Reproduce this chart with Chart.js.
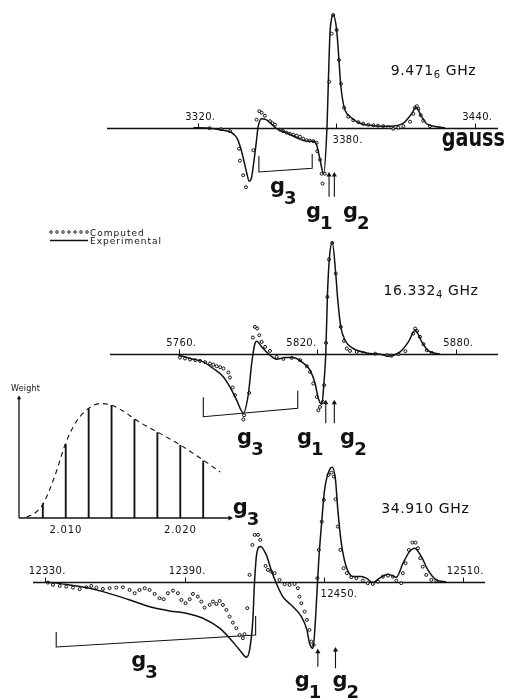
<!DOCTYPE html>
<html>
<head>
<meta charset="utf-8">
<title>EPR spectra, three frequencies</title>
<script src="https://cdn.jsdelivr.net/npm/chart.js@4.4.1/dist/chart.umd.min.js"></script>
<style>
  body { margin: 0; background: #fff; }
  #page { position: relative; width: 506px; height: 700px; }
  #page canvas { position: absolute; left: 0; top: 0; }
</style>
</head>
<body>
<div id="page">
  <canvas id="xband" width="506" height="700"></canvas>
  <canvas id="kuband" width="506" height="700"></canvas>
  <canvas id="qband" width="506" height="700"></canvas>
  <canvas id="weights" width="506" height="700"></canvas>
</div>
<script>
const INK = "#111";

// ---- 9.4716 GHz: field (gauss), derivative intensity (arb.)
const xbandTicks = [3320, 3380, 3440];
const xbandTickSide = ["above", "below", "above"];
const xbandExpt = [
  [3318, 0], [3325, -0.5], [3329.5, -2], [3334.6, -5], [3336.8, -10], [3338.2, -18],
  [3339.6, -30], [3341.1, -45], [3342.2, -53.5], [3343.2, -50], [3344, -38], [3345.1, -18],
  [3346.1, 1], [3347.6, 9], [3349.5, 8], [3351.2, 5], [3354.1, -1], [3358.4, -5],
  [3362.8, -10], [3367.1, -13.5], [3370, -13.5], [3371.4, -17], [3372.9, -32], [3374.4, -46],
  [3375.9, 0], [3376.5, 46], [3377.2, 94], [3377.9, 109], [3378.6, 112.7], [3380.1, 97.7],
  [3381.1, 67.7], [3381.8, 44.4], [3382.7, 27.7], [3383.7, 17.7], [3385.9, 11], [3390.2, 4.5],
  [3396, 2], [3403.2, 1.5], [3409, 4.5], [3412.6, 14], [3414.5, 20.5], [3416.9, 11],
  [3419.1, 4], [3423.4, 1], [3427, 0]
];
const xbandCalc = [
  [3325, -0.5], [3330, -1.5], [3333.9, -3.5], [3337.8, -21], [3338.2, -33], [3339.6, -47.5],
  [3340.8, -59.5], [3344, -22.5], [3345.4, 8], [3346.6, 16.5], [3347.6, 15], [3349, 12],
  [3351.2, 6.5], [3352.3, 4.5], [3353.4, 3], [3355.5, -2], [3356.9, -3.5], [3358.4, -5],
  [3359.8, -6], [3361.3, -7], [3362.8, -8], [3364.2, -9], [3365.6, -11], [3367.1, -12.5],
  [3368.5, -13], [3370, -13.5], [3371.4, -15], [3371.7, -23.5], [3372.9, -32], [3373.6, -46],
  [3374, -56], [3375, -46], [3376.9, 46], [3377.9, 94], [3378.6, 112.7], [3380.1, 97.7],
  [3381.1, 67.7], [3382, 44], [3383.3, 20], [3385.1, 11], [3387.3, 7.5], [3389.5, 5.5],
  [3391.6, 4], [3393.8, 3], [3396, 2.5], [3398, 2], [3400.3, 1.5], [3402.5, 0.5],
  [3404.6, -1], [3406.8, 0], [3409, 1.5], [3411.9, 6], [3413.3, 14], [3414, 20],
  [3414.8, 21.5], [3415.5, 19], [3416.5, 12.5], [3417.6, 7], [3420.5, 1.5]
];
const xbandBracket = [[3346.4, -28.3], [3346.4, -44.3], [3369.5, -40.6], [3369.5, -26.3]];
const xbandArrows = [[3376.8, -69, -47.3], [3379.1, -69, -47.3]];

// ---- 16.3324 GHz
const kubandTicks = [5760, 5820, 5880];
const kubandTickSide = ["above", "aboveEnd", "above"];
const kubandExpt = [
  [5760, -1], [5765, -4.3], [5770.7, -7.7], [5775, -14.3], [5779.4, -22.7], [5782.2, -32.7],
  [5785.1, -46], [5788, -58.7], [5790.2, -39.3], [5791.6, -9.3], [5793, 10.7], [5793.8, 13],
  [5795.9, 7.3], [5799.5, -1], [5802.4, -5], [5806, -3.3], [5809.6, -3.3], [5813.2, -7.7],
  [5816.8, -16], [5819, -29.3], [5820.4, -44.3], [5821.9, -50], [5822.9, -26], [5823.6, 0],
  [5824.3, 57.3], [5825.1, 94], [5826.4, 112.3], [5827.9, 80.7], [5828.8, 54], [5830.1, 27.3],
  [5831.9, 14], [5835.5, 5.7], [5841.3, 1.3], [5847, 0], [5850.6, -2], [5855.7, 2.3],
  [5859.3, 12.3], [5862.2, 24], [5865.1, 12.3], [5867.9, 3.3], [5873, 0]
];
const kubandCalc = [
  [5760.6, -3.3], [5762.8, -4.3], [5765, -5.3], [5767.2, -6], [5769.3, -6.7], [5771.5, -8],
  [5773.6, -9.3], [5775, -10.5], [5776.5, -12], [5778, -13], [5779.4, -14.3], [5781.5, -18.3],
  [5782.2, -23.3], [5783.4, -33.3], [5784.4, -41], [5788, -65.3], [5788.3, -61], [5790.5, -38.7],
  [5792.1, 16.7], [5793, 27.3], [5794, 25.7], [5794.9, 19], [5795.9, 12.3], [5797.4, 7.3],
  [5799.5, 3.3], [5802.4, -2.7], [5805.3, -4.7], [5808.9, -3.7], [5812.5, -6], [5815.4, -12],
  [5816.8, -17.7], [5818.2, -29.3], [5819.7, -42.7], [5820.4, -56], [5821.1, -52.7], [5822.3, -47.7],
  [5822.9, -31], [5823.7, 11.3], [5824.3, 57.3], [5825, 94.7], [5826.4, 111.3], [5827.9, 80.7],
  [5830.1, 27.3], [5831.5, 13.3], [5832.7, 5.7], [5834.1, 3.3], [5837, 2.3], [5840, 1],
  [5845, 0.5], [5850, -1], [5852, -1.5], [5855, 0], [5858, 3], [5861.4, 20.7],
  [5862.2, 25.7], [5863, 23.3], [5864.3, 17.3], [5865.8, 10], [5867.2, 4], [5869.4, 1.3]
];
const kubandBracket = [[5770.7, -43.1], [5770.7, -62.5], [5811.5, -54.1], [5811.5, -36.5]];
const kubandArrows = [[5823.6, -69.1, -48.5], [5827.3, -69.1, -48.5]];

// ---- 34.910 GHz
const qbandTicks = [12330, 12390, 12450, 12510];
const qbandTickSide = ["above", "above", "below", "above"];
const qbandExpt = [
  [12330.4, 0], [12340.5, -3], [12347.7, -5.7], [12354.8, -9.7], [12362, -14.7], [12369.2, -20.3],
  [12376.3, -25.7], [12383.5, -29], [12390.7, -31.3], [12397.9, -36.3], [12405.1, -46.3], [12409.4, -56.3],
  [12413.7, -68], [12416.6, -75.3], [12418, -68], [12419.4, -38], [12420.1, -1.3], [12421.1, 28.7],
  [12422.6, 35.5], [12425.2, 27], [12427.3, 12], [12429.5, -1.3], [12432.3, -14.7], [12436.6, -24.7],
  [12440.3, -34.7], [12442.7, -48], [12443.8, -61.3], [12445.3, -66.3], [12446, -51.3], [12447, -11.3],
  [12447.8, 22], [12448.9, 55.3], [12450.3, 92], [12452.4, 112], [12453.6, 114.7], [12455, 102],
  [12456, 72], [12457.5, 39], [12459.6, 15.3], [12462.5, 5.3], [12466.1, 5.3], [12468.3, 3.7],
  [12471.1, -0.7], [12474, 3.7], [12477.6, 7.7], [12481.2, 4.7], [12484.1, 18.7], [12486.9, 30.3],
  [12489.1, 33.7], [12492, 25.3], [12494.8, 12], [12498.4, 2], [12502.7, 0]
];
const qbandCalc = [
  [12331.1, -0.7], [12333.3, -3], [12336.2, -4], [12339, -4.7], [12341.9, -5.7], [12344.8, -7.3],
  [12347.7, -5.3], [12349.8, -4], [12352, -5.7], [12354.8, -7], [12357.7, -6.3], [12360.6, -5.7],
  [12363.4, -5.3], [12366.3, -8], [12368.5, -11.3], [12370.6, -8], [12372.8, -6.3], [12374.9, -8],
  [12377.1, -12], [12379.2, -16.3], [12381, -17.3], [12382.8, -11.3], [12385, -8.7], [12387.1, -11.3],
  [12388.6, -18], [12390.4, -21.3], [12392.2, -17.3], [12393.6, -12], [12395.7, -14.7], [12397.2, -19.7],
  [12398.6, -25.7], [12400.8, -23], [12402.2, -19.7], [12403.7, -22], [12405.1, -19], [12406.5, -23],
  [12408, -28], [12409.4, -34.7], [12410.8, -40.7], [12412.3, -46.3], [12413.7, -53], [12415.1, -56.3],
  [12415.8, -52.3], [12417, -26.3], [12418, 7], [12419.2, 37], [12420.2, 47], [12421.6, 47],
  [12422.6, 42], [12424.9, 16], [12425.9, 12], [12427.3, 10.3], [12428.8, 8.7], [12430.9, 2],
  [12433.1, -2.3], [12435.2, -3], [12437.4, -2], [12438.8, -6.3], [12439.5, -14.7], [12440.3, -21.3],
  [12441.7, -29.7], [12442.7, -38], [12443.8, -48], [12444.6, -59.7], [12445.6, -63], [12447.2, 3.7],
  [12447.8, 32], [12449.1, 60.3], [12450, 82], [12452, 107], [12453.3, 109.3], [12454.3, 105.3],
  [12455, 82.7], [12456, 55.3], [12457.1, 32], [12458.5, 13.7], [12459.9, 8.7], [12461.8, 4.7],
  [12464, 3.7], [12466.8, 1.3], [12468.9, -1.3], [12471.1, -2], [12473.3, 0.3], [12475.4, 5.3],
  [12477.6, 6.3], [12479.7, 5.3], [12481.2, 1.3], [12483.3, -1.3], [12484, 8.7], [12485.2, 18.7],
  [12486.6, 32], [12488.1, 39.3], [12489.5, 39.3], [12490.5, 33.7], [12491.5, 23.7], [12492.6, 15.3],
  [12494.1, 7], [12496.3, 2], [12498.4, 1.3]
];
const qbandBracket = [[12334.7, -50.1], [12334.7, -65.1], [12420.6, -53.1], [12420.6, -34.1]];
const qbandArrows = [[12447.4, -84.8, -69.8], [12455, -86.4, -68.1]];

// ---- g-value weighting used for the computed spectra
const weightG = [2.008, 2.010, 2.012, 2.014, 2.016, 2.018, 2.020, 2.022];
const weightH = [14.4, 73.7, 109.4, 112.7, 98.4, 85.4, 72.7, 57];
const weightEnvelope = [
  [2.00659, 1], [2.00732, 5], [2.00804, 14.4], [2.00907, 42.7], [2.010, 75], [2.0109, 96],
  [2.01197, 109.4], [2.013, 114.4], [2.01396, 113], [2.015, 107], [2.01605, 98.8], [2.01701, 92],
  [2.01804, 85.8], [2.01902, 79.4], [2.020, 73], [2.02103, 65.4], [2.02208, 57.3], [2.02348, 46]
];
const weightTicks = [2.010, 2.020];

// axis line, tick marks, tick labels and the g / frequency labels of one spectrum
const spectrumDecor = {
  id: "spectrumDecor",
  beforeDatasetsDraw(chart, args, opts) {
    const { ctx, chartArea, scales: { x, y } } = chart;
    const y0 = Math.round(y.getPixelForValue(0)) + 0.5;
    ctx.save();
    ctx.strokeStyle = INK;
    ctx.lineWidth = 1.6;
    ctx.beginPath();
    ctx.moveTo(chartArea.left, y0);
    ctx.lineTo(chartArea.right, y0);
    ctx.stroke();

    ctx.lineWidth = 1;
    ctx.fillStyle = INK;
    ctx.font = '10px "DejaVu Sans"';
    ctx.letterSpacing = "0.3px";
    opts.ticks.forEach((v, i) => {
      const px = Math.round(x.getPixelForValue(v)) + 0.5;
      ctx.beginPath();
      ctx.moveTo(px, y0);
      ctx.lineTo(px, y0 - 5);
      ctx.stroke();
      const num = String(v);
      const w = ctx.measureText(num).width;
      const side = opts.sides[i];
      if (side === "below") {
        ctx.fillText(num + ".", px - 4, y0 + 14);
      } else if (side === "aboveEnd") {
        ctx.fillText(num + ".", px - ctx.measureText(num + ".").width - 1, y0 - 9);
      } else {
        ctx.fillText(num + ".", px - w / 2, y0 - 9);
      }
    });
    ctx.restore();
  },
  afterDraw(chart, args, opts) {
    const { ctx, scales: { x, y } } = chart;
    ctx.save();
    ctx.fillStyle = INK;
    opts.labels.forEach(lab => {
      const px = x.getPixelForValue(lab.at[0]);
      const py = y.getPixelForValue(lab.at[1]);
      if (lab.kind === "g") {
        ctx.letterSpacing = "0px";
        ctx.font = 'bold 21px "DejaVu Sans"';
        ctx.fillText("g", px, py);
        const w = ctx.measureText("g").width;
        ctx.font = 'bold 18px "DejaVu Sans"';
        ctx.fillText(lab.sub, px + w - 1, py + 11);
      } else if (lab.kind === "freq") {
        ctx.letterSpacing = "0.6px";
        ctx.font = '14px "DejaVu Sans"';
        ctx.fillText(lab.text, px, py);
        let cx = px + ctx.measureText(lab.text).width;
        if (lab.sub) {
          ctx.font = '10px "DejaVu Sans"';
          ctx.fillText(lab.sub, cx, py + 3);
          cx += ctx.measureText(lab.sub).width;
          ctx.font = '14px "DejaVu Sans"';
        }
        ctx.fillText(lab.tail, cx, py);
      } else if (lab.kind === "unit") {
        ctx.letterSpacing = "0px";
        ctx.font = 'bold 24px "DejaVu Sans"';
        ctx.save();
        ctx.translate(px, py);
        ctx.scale(0.8, 1);
        ctx.fillText(lab.text, 0, 0);
        ctx.restore();
      }
    });
    ctx.restore();
  }
};

// inset axes labels plus the figure key
const weightDecor = {
  id: "weightDecor",
  afterDraw(chart, args, opts) {
    const { ctx, scales: { x, y } } = chart;
    const y0 = y.getPixelForValue(0);
    ctx.save();
    ctx.fillStyle = INK;
    ctx.strokeStyle = INK;
    ctx.font = '10px "DejaVu Sans"';
    ctx.letterSpacing = "0.8px";
    weightTicks.forEach(v => {
      const t = v.toFixed(3);
      const w = ctx.measureText(t).width;
      ctx.fillText(t, x.getPixelForValue(v) - w / 2, y0 + 15);
    });
    ctx.font = '8px "DejaVu Sans"';
    ctx.letterSpacing = "0.2px";
    ctx.fillText("Weight", x.left - 8, y.top - 7);

    // key: dotted row for computed, solid rule for experimental
    const k = opts.key;
    ctx.lineWidth = 0.9;
    for (let i = 0; i < 7; i++) {
      ctx.beginPath();
      ctx.arc(k.x + 1 + i * 6, k.y, 1.3, 0, Math.PI * 2);
      ctx.stroke();
    }
    ctx.lineWidth = 1.3;
    ctx.beginPath();
    ctx.moveTo(k.x, k.y + 8.5);
    ctx.lineTo(k.x + 38, k.y + 8.5);
    ctx.stroke();
    ctx.font = '9px "DejaVu Sans"';
    ctx.letterSpacing = "1px";
    ctx.fillText("Computed", k.x + 40, k.y + 3.5);
    ctx.fillText("Experimental", k.x + 40, k.y + 12);
    ctx.restore();
  }
};

function arrowSets(arrows) {
  return arrows.map(a => ({
    type: "line",
    data: [[a[0], a[1]], [a[0], a[2]]],
    borderColor: INK,
    borderWidth: 1.1,
    tension: 0,
    pointRadius: [0, 3],
    pointStyle: "triangle",
    pointBackgroundColor: INK,
    pointBorderColor: INK,
    pointBorderWidth: 0
  }));
}

function spectrumChart(id, expt, calc, bracket, arrows, area, xRange, yRange, decor) {
  return new Chart(document.getElementById(id), {
    type: "line",
    data: {
      datasets: [
        {
          label: "Experimental",
          data: expt,
          borderColor: INK,
          borderWidth: 1.5,
          pointRadius: 0,
          cubicInterpolationMode: "monotone"
        },
        {
          label: "Computed",
          data: calc,
          showLine: false,
          pointRadius: 1.5,
          pointBorderWidth: 1,
          pointBorderColor: INK,
          pointBackgroundColor: "rgba(255,255,255,0.6)"
        },
        {
          label: "range",
          data: bracket,
          borderColor: INK,
          borderWidth: 1.1,
          pointRadius: 0,
          tension: 0
        },
        ...arrowSets(arrows)
      ]
    },
    options: {
      responsive: false,
      animation: false,
      layout: { padding: area },
      scales: {
        x: { type: "linear", min: xRange[0], max: xRange[1], display: false },
        y: { type: "linear", min: yRange[0], max: yRange[1], display: false }
      },
      plugins: {
        legend: { display: false },
        tooltip: { enabled: false },
        spectrumDecor: decor
      }
    },
    plugins: [spectrumDecor]
  });
}

spectrumChart("xband", xbandExpt, xbandCalc, xbandBracket, xbandArrows,
  { left: 107, right: 8, top: 10, bottom: 460 }, [3280.6, 3450], [-112.3, 117.7],
  {
    ticks: xbandTicks, sides: xbandTickSide,
    labels: [
      { kind: "g", sub: "3", at: [3351.2, -65.6] },
      { kind: "g", sub: "1", at: [3366.8, -90] },
      { kind: "g", sub: "2", at: [3382.8, -90] },
      { kind: "freq", text: "9.471", sub: "6", tail: " GHz", at: [3403.5, 52.7] },
      { kind: "unit", text: "gauss", at: [3425.6, -18.3] }
    ]
  });

spectrumChart("kuband", kubandExpt, kubandCalc, kubandBracket, kubandArrows,
  { left: 110, right: 8, top: 230, bottom: 230 }, [5730.4, 5898], [-115.8, 124.2],
  {
    ticks: kubandTicks, sides: kubandTickSide,
    labels: [
      { kind: "g", sub: "3", at: [5785.3, -90.1] },
      { kind: "g", sub: "1", at: [5811.2, -90.1] },
      { kind: "g", sub: "2", at: [5829.8, -90.1] },
      { kind: "freq", text: "16.332", sub: "4", tail: " GHz", at: [5848.5, 59.2] }
    ]
  });

spectrumChart("qband", qbandExpt, qbandCalc, qbandBracket, qbandArrows,
  { left: 33, right: 21, top: 455, bottom: 5 }, [12324.7, 12519.4], [-113.1, 126.9],
  {
    ticks: qbandTicks, sides: qbandTickSide,
    labels: [
      { kind: "g", sub: "3", at: [12410.7, 67.9] },
      { kind: "g", sub: "3", at: [12367, -85.4] },
      { kind: "g", sub: "1", at: [12437.4, -105.4] },
      { kind: "g", sub: "2", at: [12453.7, -105.4] },
      { kind: "freq", text: "34.910", tail: " GHz", at: [12474.7, 68.6] }
    ]
  });

// inset: weight of each g value in the distribution
const gMin = 2.00592, gMax = 2.02434, hMax = 120;
new Chart(document.getElementById("weights"), {
  type: "line",
  data: {
    datasets: [
      {
        label: "envelope",
        data: weightEnvelope,
        borderColor: INK,
        borderWidth: 1.1,
        borderDash: [5, 4],
        pointRadius: 0,
        cubicInterpolationMode: "monotone"
      },
      {
        type: "bar",
        label: "weight",
        data: weightG.map((g, i) => ({ x: g, y: weightH[i] })),
        backgroundColor: INK,
        barThickness: 1.2,
        borderWidth: 0
      },
      {
        label: "y axis",
        data: [[gMin, 0], [gMin, hMax]],
        borderColor: INK,
        borderWidth: 1.3,
        pointRadius: [0, 2.5],
        pointStyle: "triangle",
        pointBackgroundColor: INK,
        pointBorderWidth: 0,
        clip: false
      },
      {
        label: "x axis",
        data: [[gMin, 0], [gMax, 0]],
        borderColor: INK,
        borderWidth: 1.3,
        pointRadius: [0, 3],
        pointStyle: "triangle",
        pointRotation: 90,
        pointBackgroundColor: INK,
        pointBorderWidth: 0,
        clip: false
      }
    ]
  },
  options: {
    responsive: false,
    animation: false,
    layout: { padding: { left: 19, right: 276, top: 398, bottom: 182 } },
    scales: {
      x: { type: "linear", min: gMin, max: gMax, offset: false, display: false },
      y: { type: "linear", min: 0, max: hMax, display: false }
    },
    plugins: {
      legend: { display: false },
      tooltip: { enabled: false },
      weightDecor: { key: { x: 50, y: 232 } }
    }
  },
  plugins: [weightDecor]
});
</script>
</body>
</html>
